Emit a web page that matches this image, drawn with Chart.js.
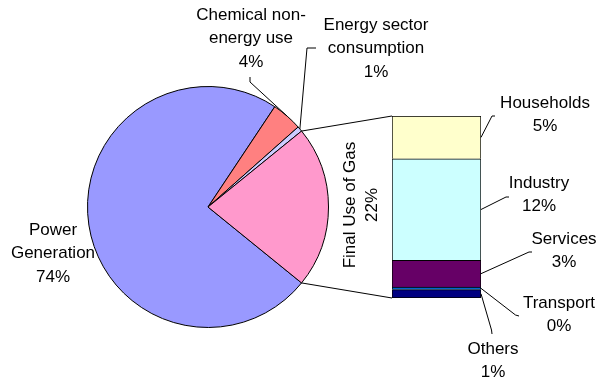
<!DOCTYPE html>
<html lang="en">
<head>
<meta charset="utf-8">
<title>Use of gas by sector</title>
<script src="https://cdn.jsdelivr.net/npm/chart.js"></script>
<style>
    body { margin: 0; background: #fff; }
    .wrap { position: relative; width: 598px; height: 379px; }
    .wrap canvas { position: absolute; left: 0; top: 0; }
</style>
</head>
<body>
<div class="wrap">
    <canvas id="pieChart" width="598" height="379"></canvas>
    <canvas id="barChart" width="598" height="379"></canvas>
</div>
<script>
// pie: share of gas use (%)
const pieLabels = ['Power\nGeneration', 'Chemical non-\nenergy use', 'Energy sector\nconsumption', 'Final Use of Gas'];
const pieValues = [73.5, 4.1, 0.7, 21.7];
const pieColors = ['#9999ff', '#ff8080', '#ccccff', '#ff99cc'];

// bar: split of final use (%), bottom to top
const barLabels = ['Others', 'Transport', 'Services', 'Industry', 'Households'];
const barValues = [1.0, 0.3, 3.2, 12.1, 5.1];
const barColors = ['#000080', '#0066cc', '#660066', '#ccffff', '#ffffcc'];

const FONT = '17px "Liberation Sans", Arial, sans-serif';
const LINE_H = 23.5;

function drawLines(ctx, lines, x, y) {
    lines.forEach((t, i) => ctx.fillText(t, x, y + i * LINE_H));
}
function polyline(ctx, pts) {
    ctx.beginPath();
    ctx.moveTo(pts[0][0], pts[0][1]);
    pts.slice(1).forEach(p => ctx.lineTo(p[0], p[1]));
    ctx.stroke();
}
function pct(v) { return Math.round(v) + '%'; }

// label boxes for the pie (text centre, first line) and leader elbows
const pieText = [
    { x: 53, y: 230, elbow: null },
    { x: 251, y: 15, elbow: [[250, 77], [250, 82]] },
    { x: 376, y: 25, elbow: [[316, 48], [307, 48]] }
];

const pieLabelPlugin = {
    id: 'pieLabels',
    afterDatasetsDraw(chart) {
        const ctx = chart.ctx;
        const arcs = chart.getDatasetMeta(0).data;
        ctx.save();
        ctx.font = FONT;
        ctx.fillStyle = '#000';
        ctx.strokeStyle = '#000';
        ctx.lineWidth = 1;
        ctx.textAlign = 'center';
        ctx.textBaseline = 'middle';
        pieText.forEach((p, i) => {
            const lines = pieLabels[i].split('\n').concat(pct(pieValues[i]));
            drawLines(ctx, lines, p.x, p.y);
            if (p.elbow) {
                const a = arcs[i];
                const mid = (a.startAngle + a.endAngle) / 2;
                const end = [a.x + Math.cos(mid) * a.outerRadius, a.y + Math.sin(mid) * a.outerRadius];
                polyline(ctx, p.elbow.concat([end]));
            }
        });
        // rotated label for the slice split out to the bar
        ctx.translate(361, 205);
        ctx.rotate(-Math.PI / 2);
        ctx.fillText(pieLabels[3], 0, -11);
        ctx.fillText(pct(pieValues[3]), 0, 11);
        ctx.restore();
    }
};

const finalShare = pieValues[3] / pieValues.reduce((s, v) => s + v, 0);

const pieChart = new Chart(document.getElementById('pieChart'), {
    type: 'pie',
    data: {
        labels: pieLabels,
        datasets: [{
            data: pieValues,
            backgroundColor: pieColors,
            borderColor: '#000',
            borderWidth: 1
        }]
    },
    options: {
        responsive: false,
        animation: false,
        events: [],
        rotation: 90 + finalShare * 180,
        layout: { padding: { left: 87, right: 269, top: 86, bottom: 51 } },
        plugins: { legend: { display: false }, tooltip: { enabled: false } }
    },
    plugins: [pieLabelPlugin]
});

// label text and leader elbows for the bar, in barLabels order
const barText = [
    { x: 493, y: 349, elbow: [[491.5, 330], [492, 334]] },
    { x: 559, y: 303, elbow: [[515.5, 315], [519, 316]] },
    { x: 564, y: 239, elbow: [[529, 252], [532, 252]] },
    { x: 539, y: 183, elbow: [[506, 197], [509, 197]] },
    { x: 545, y: 103, elbow: [[492, 116], [495, 116]] }
];

const barLabelPlugin = {
    id: 'barLabels',
    afterDatasetsDraw(chart) {
        const ctx = chart.ctx;
        ctx.save();
        ctx.font = FONT;
        ctx.fillStyle = '#000';
        ctx.strokeStyle = '#000';
        ctx.lineWidth = 1;
        ctx.textAlign = 'center';
        ctx.textBaseline = 'middle';
        barText.forEach((p, i) => {
            const el = chart.getDatasetMeta(i).data[0];
            drawLines(ctx, [barLabels[i], pct(barValues[i])], p.x, p.y);
            const start = [el.x + el.width / 2, (el.y + el.base) / 2];
            polyline(ctx, [start].concat(p.elbow));
        });
        // connectors from the split slice to the bar
        const arc = pieChart.getDatasetMeta(0).data[3];
        const bottomEl = chart.getDatasetMeta(0).data[0];
        const topEl = chart.getDatasetMeta(barValues.length - 1).data[0];
        const left = topEl.x - topEl.width / 2;
        const p1 = [arc.x + Math.cos(arc.startAngle) * arc.outerRadius, arc.y + Math.sin(arc.startAngle) * arc.outerRadius];
        const p2 = [arc.x + Math.cos(arc.endAngle) * arc.outerRadius, arc.y + Math.sin(arc.endAngle) * arc.outerRadius];
        polyline(ctx, [p1, [left, topEl.y]]);
        polyline(ctx, [p2, [left, bottomEl.base]]);
        ctx.restore();
    }
};

new Chart(document.getElementById('barChart'), {
    type: 'bar',
    data: {
        labels: ['Final Use of Gas'],
        datasets: barLabels.map((name, i) => ({
            label: name,
            data: [barValues[i]],
            backgroundColor: barColors[i],
            borderColor: '#000',
            borderWidth: { left: 1, right: 1, top: 1, bottom: i === 0 ? 1 : 0 },
            borderSkipped: false,
            barPercentage: 1,
            categoryPercentage: 1
        }))
    },
    options: {
        responsive: false,
        animation: false,
        events: [],
        layout: { padding: { left: 392, right: 117, top: 116, bottom: 81 } },
        scales: {
            x: { display: false, stacked: true },
            y: { display: false, stacked: true, min: 0, max: barValues.reduce((s, v) => s + v, 0) }
        },
        plugins: { legend: { display: false }, tooltip: { enabled: false } }
    },
    plugins: [barLabelPlugin]
});
</script>
</body>
</html>
